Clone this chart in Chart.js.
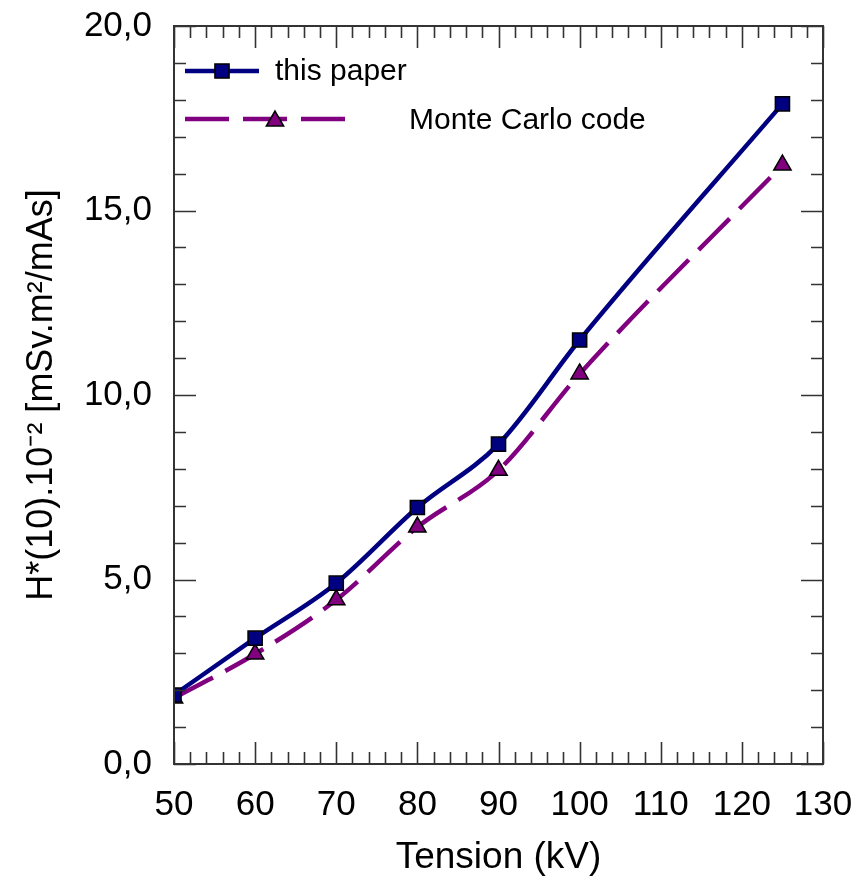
<!DOCTYPE html>
<html>
<head>
<meta charset="utf-8">
<script src="https://cdn.jsdelivr.net/npm/chart.js@4/dist/chart.umd.min.js"></script>
<style>
  html, body { margin: 0; padding: 0; background: #ffffff; }
  #wrap { width: 858px; height: 891px; position: relative; }
</style>
</head>
<body>
<div id="wrap"><canvas id="c" width="858" height="891"></canvas></div>
<script>
// ---- data ----
const tensionKV = [50, 60, 70, 80, 90, 100, 125];
const thisPaper = [1.87, 3.41, 4.90, 6.95, 8.67, 11.49, 17.89];
const monteCarlo = [1.79, 2.98, 4.45, 6.42, 7.96, 10.57, 16.23];
const seriesNames = ['this paper', 'Monte Carlo code'];
const xTickValues = [50, 60, 70, 80, 90, 100, 110, 120, 130];
const yTickValues = [0, 5, 10, 15, 20];

const FONT = "'Liberation Sans', Arial, sans-serif";
const FRAME = '#333333';

function pts(xs, ys) { return xs.map((x, i) => ({ x: x, y: ys[i] })); }

function drawRectMarker(ctx, x, y, r, fill) {
  const s = Math.SQRT1_2 * r;
  ctx.beginPath();
  ctx.rect(x - s, y - s, 2 * s, 2 * s);
  ctx.fillStyle = fill; ctx.fill();
  ctx.lineWidth = 1.5; ctx.strokeStyle = '#000'; ctx.stroke();
}
function drawTriMarker(ctx, x, y, r, fill) {
  ctx.beginPath();
  ctx.moveTo(x, y - r);
  ctx.lineTo(x + Math.sin(2 * Math.PI / 3) * r, y + 0.5 * r);
  ctx.lineTo(x - Math.sin(2 * Math.PI / 3) * r, y + 0.5 * r);
  ctx.closePath();
  ctx.fillStyle = fill; ctx.fill();
  ctx.lineWidth = 1.5; ctx.strokeStyle = '#000'; ctx.stroke();
}

const framePlugin = {
  id: 'frameTicks',
  afterDatasetsDraw(chart) {
    const ctx = chart.ctx;
    const a = chart.chartArea;
    const xs = chart.scales.x, ys = chart.scales.y;
    ctx.save();
    ctx.strokeStyle = FRAME;
    ctx.lineWidth = 1.6;
    // x ticks (minor every 2, major every 10), bottom and top, inward
    for (let v = xs.min; v <= xs.max + 1e-9; v += 2) {
      const px = Math.round(xs.getPixelForValue(v)) + 0.5;
      const len = (v % 10 === 0) ? 22 : 12;
      ctx.beginPath();
      ctx.moveTo(px, a.bottom); ctx.lineTo(px, a.bottom - len);
      ctx.moveTo(px, a.top); ctx.lineTo(px, a.top + len);
      ctx.stroke();
    }
    // y ticks (minor every 1, major every 5), left and right, inward
    for (let v = ys.min; v <= ys.max + 1e-9; v += 1) {
      const py = Math.round(ys.getPixelForValue(v)) + 0.5;
      const len = (v % 5 === 0) ? 22 : 12;
      ctx.beginPath();
      ctx.moveTo(a.left, py); ctx.lineTo(a.left + len, py);
      ctx.moveTo(a.right, py); ctx.lineTo(a.right - len, py);
      ctx.stroke();
    }
    // frame
    ctx.lineWidth = 2;
    ctx.strokeRect(a.left, a.top, a.right - a.left, a.bottom - a.top);

    // legend inside plot
    const ds0 = chart.data.datasets[0], ds1 = chart.data.datasets[1];
    ctx.lineCap = 'butt';
    ctx.setLineDash([]);
    ctx.lineWidth = ds0.borderWidth; ctx.strokeStyle = ds0.borderColor;
    ctx.beginPath(); ctx.moveTo(185, 71); ctx.lineTo(259, 71); ctx.stroke();
    drawRectMarker(ctx, 222, 71, 10, ds0.pointBackgroundColor);
    ctx.lineWidth = ds1.borderWidth; ctx.strokeStyle = ds1.borderColor;
    ctx.setLineDash(ds1.borderDash);
    ctx.beginPath(); ctx.moveTo(185, 119); ctx.lineTo(348, 119); ctx.stroke();
    ctx.setLineDash([]);
    drawTriMarker(ctx, 275, 121, 10, ds1.pointBackgroundColor);
    ctx.fillStyle = '#000';
    ctx.font = '30px ' + FONT;
    ctx.textBaseline = 'middle';
    ctx.textAlign = 'left';
    ctx.fillText(ds0.label, 275, 72);
    ctx.fillText(ds1.label, 409, 121);
    ctx.restore();
  }
};

new Chart(document.getElementById('c'), {
  type: 'line',
  data: {
    datasets: [
      {
        label: seriesNames[0],
        data: pts(tensionKV, thisPaper),
        borderColor: '#000080',
        backgroundColor: '#000080',
        borderWidth: 4.5,
        pointStyle: 'rect',
        pointRadius: 10,
        pointHoverRadius: 10,
        pointBackgroundColor: '#000080',
        pointBorderColor: '#000000',
        pointBorderWidth: 1.5,
        cubicInterpolationMode: 'monotone',
        fill: false
      },
      {
        label: seriesNames[1],
        data: pts(tensionKV, monteCarlo),
        borderColor: '#800080',
        backgroundColor: '#800080',
        borderWidth: 4.5,
        borderDash: [44, 14],
        pointStyle: 'triangle',
        pointRadius: 10,
        pointHoverRadius: 10,
        pointBackgroundColor: '#800080',
        pointBorderColor: '#000000',
        pointBorderWidth: 1.5,
        cubicInterpolationMode: 'monotone',
        fill: false
      }
    ]
  },
  options: {
    responsive: false,
    animation: false,
    events: [],
    layout: { padding: { left: 0, right: 35, top: 26, bottom: 0 } },
    plugins: {
      legend: { display: false },
      tooltip: { enabled: false }
    },
    scales: {
      x: {
        type: 'linear',
        min: 50, max: 130,
        afterBuildTicks(scale) { scale.ticks = xTickValues.map(v => ({ value: v })); },
        afterFit(scale) {
          scale.height = 127;
          scale.paddingLeft = 0; scale.paddingRight = 0;
        },
        grid: { display: false, drawTicks: false },
        border: { display: false },
        ticks: {
          padding: 20,
          color: '#000',
          font: { family: FONT, size: 35 },
          maxRotation: 0,
          autoSkip: false
        },
        title: {
          display: true,
          text: 'Tension (kV)',
          color: '#000',
          font: { family: FONT, size: 37 },
          padding: { top: 0, bottom: 11 }
        }
      },
      y: {
        type: 'linear',
        min: 0, max: 20,
        afterBuildTicks(scale) { scale.ticks = yTickValues.map(v => ({ value: v })); },
        afterFit(scale) {
          scale.width = 174;
          scale.paddingTop = 0; scale.paddingBottom = 0;
        },
        grid: { display: false, drawTicks: false },
        border: { display: false },
        ticks: {
          padding: 22,
          color: '#000',
          font: { family: FONT, size: 35 },
          callback: v => Number(v).toFixed(1).replace('.', ',')
        },
        title: {
          display: true,
          text: 'H*(10).10\u207B\u00B2 [mSv.m\u00B2/mAs]',
          color: '#000',
          font: { family: FONT, size: 36 },
          padding: { top: 20, bottom: 0 }
        }
      }
    }
  },
  plugins: [framePlugin]
});
</script>
</body>
</html>
